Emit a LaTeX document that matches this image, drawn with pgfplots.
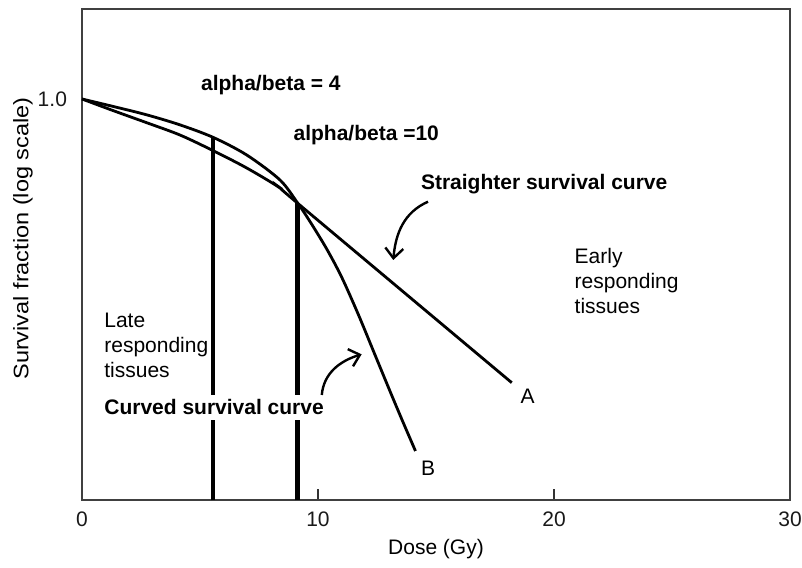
\documentclass[border=0pt]{standalone}
\usepackage{fontspec}
\setmainfont{Liberation Sans}
\usepackage{pgfplots}
\pgfplotsset{compat=1.18}
\usetikzlibrary{arrows.meta}

\begin{document}
\begin{tikzpicture}
\begin{axis}[
  scale only axis, width=354pt, height=245.5pt,
  xmin=0, xmax=30, ymin=0, ymax=491,
  xtick={0,10,20,30}, ytick={401}, yticklabels={1.0},
  xtick pos=bottom, ytick pos=left,
  tick align=inside, major tick length=5.5pt,
  ytick style={draw=none},
  xtick style={black!80, line width=0.6pt},
  axis line style={black!75, line width=0.6pt},
  font=\fontsize{10.5}{12.5}\selectfont,
  tick label style={font=\fontsize{10.5}{12.5}\selectfont, text=black!90},
  /pgf/number format/assume math mode=true,
  xticklabel style={yshift=-2.5pt},
  yticklabel style={xshift=-4pt},
  xlabel={Dose (Gy)}, ylabel={\scalebox{1.12}[1]{Survival fraction (log scale)}},
  xlabel style={at={(axis description cs:0.5,-0.0998)}, anchor=center},
  ylabel style={at={(axis description cs:-0.0835,0.5326)}, anchor=center},
  clip=false,
]
% curve A: alpha/beta = 10 (straighter)
\addplot[black, line width=1.4pt, smooth, tension=0.5] coordinates {
  (0,401) (1.33,389.3) (2.74,377.3) (4.15,365) (5.56,349.3) (6.98,332) (8.39,312) (9.15,296.5) (18.21,117.3)
};
% curve B: alpha/beta = 4 (curved)
\addplot[black, line width=1.4pt, smooth, tension=0.5] coordinates {
  (0,401) (1.31,393.6) (2.72,385.3) (4.13,375.3) (5.56,362.6) (6.98,345) (8.39,320) (9.15,296.5)
  (9.7,277) (10.37,251) (11.0,223) (11.7,186) (12.4,146) (13.1,106) (13.6,78) (14.13,49)
};
% dose markers
\addplot[black, line width=2.1pt] coordinates {(5.56,0) (5.56,362.6)};
\addplot[black, line width=2.1pt] coordinates {(9.13,0) (9.13,297)};

\node[anchor=west, inner sep=0, font=\fontsize{10.5}{12.5}\selectfont\bfseries] at (axis cs:5.03,415) {alpha/beta = 4};
\node[anchor=west, inner sep=0, font=\fontsize{10.5}{12.5}\selectfont\bfseries] at (axis cs:8.95,365) {alpha/beta =10};
\node[anchor=west, inner sep=0, font=\fontsize{10.5}{12.5}\selectfont\bfseries] at (axis cs:14.35,316) {Straighter survival curve};
\node[anchor=west, inner xsep=0, inner ysep=2.5pt, fill=white, font=\fontsize{10.5}{12.5}\selectfont\bfseries] at (axis cs:0.93,92.7) {Curved survival curve};
\node[anchor=west, inner sep=0, align=left, font=\fontsize{10.5}{12.5}\selectfont] at (axis cs:20.86,219) {Early\\responding\\tissues};
\node[anchor=west, inner sep=0, align=left, font=\fontsize{10.5}{12.5}\selectfont] at (axis cs:0.93,155) {Late\\responding\\tissues};
\node[inner sep=0, font=\fontsize{10.5}{12.5}\selectfont] at (axis cs:18.88,104) {A};
\node[inner sep=0, font=\fontsize{10.5}{12.5}\selectfont] at (axis cs:14.67,31.7) {B};

\draw[line width=1.2pt, -{Straight Barb[length=5pt,width=9pt,line width=1.2pt]}]
  (axis cs:14.66,298.3) to[out=204,in=85] (axis cs:13.19,240);
\draw[line width=1.2pt, -{Straight Barb[length=5pt,width=9pt,line width=1.2pt]}]
  (axis cs:10.16,105) to[out=85,in=197] (axis cs:11.85,145.7);
\end{axis}
\pgfresetboundingbox
\path ([shift={(-41pt,-33.5pt)}]current axis.south west) rectangle ([shift={(6pt,4.5pt)}]current axis.north east);
\end{tikzpicture}
\end{document}
